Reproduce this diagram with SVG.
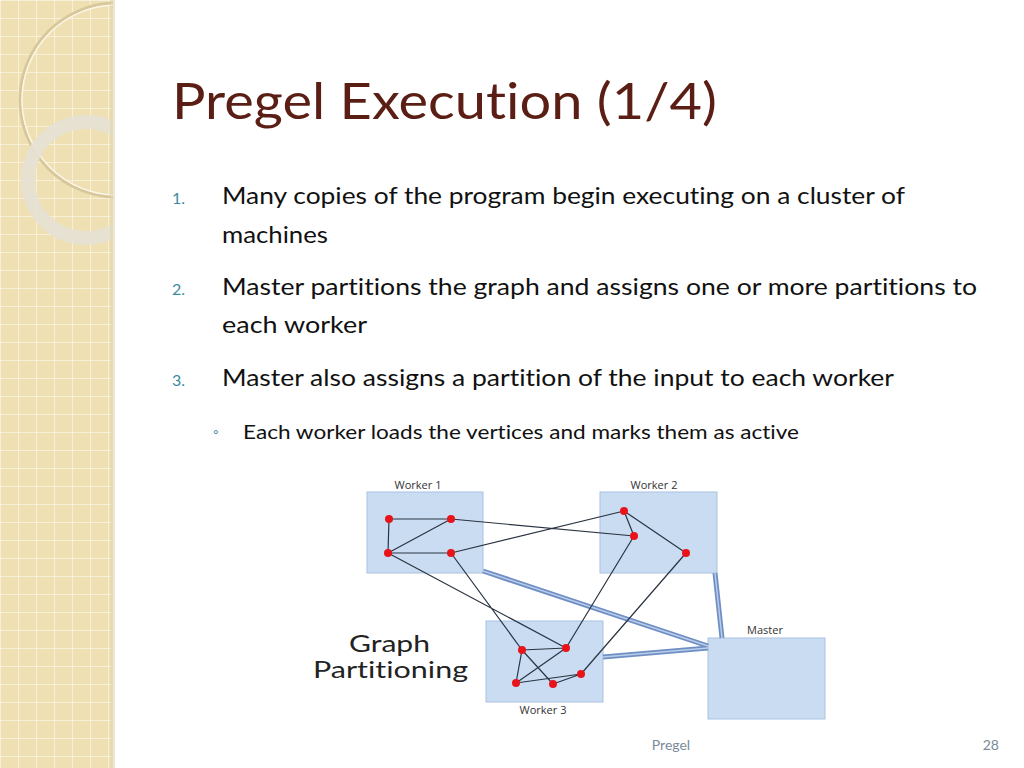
<svg xmlns="http://www.w3.org/2000/svg" width="1024" height="768" viewBox="0 0 1024 768">
<defs>
<pattern id="grid" width="18" height="18" patternUnits="userSpaceOnUse"><rect width="18" height="18" fill="#efe0b4"/><path d="M0 0H18M0 0V18" stroke="#fbf5e4" stroke-width="1.5"/></pattern>
<clipPath id="strip"><rect width="113" height="768"/></clipPath>
</defs>
<style>
text{font-variant-ligatures:none}
.t{font-family:"Lato","Liberation Sans",sans-serif}
.num{font-family:"Lato","Liberation Sans",sans-serif;font-size:16px;fill:#3a8aa0}
.body{font-family:"Lato","Liberation Sans",sans-serif;font-size:24px;fill:#111}
.box{fill:#c9dcf2;stroke:#a9c2e2;stroke-width:1}
.lbl{font-family:"Open Sans","Liberation Sans",sans-serif;font-size:11px;fill:#333}
.e{stroke:#2a3442;stroke-width:1.2;fill:none}
.n{fill:#e8141a}
.thick{stroke:#6f8fc4;stroke-width:5;fill:none}
.thin{stroke:#b9cdea;stroke-width:1.5;fill:none}
</style>
<rect width="1024" height="768" fill="#fff"/>
<g id="strip-deco" clip-path="url(#strip)">
<rect width="113" height="768" fill="url(#grid)"/>
<circle cx="117" cy="100" r="97" fill="none" stroke="#d8c79a" stroke-width="3"/>
<circle cx="117" cy="100" r="95" fill="none" stroke="#fbf6e8" stroke-width="1.5"/>
<circle cx="86" cy="180" r="58" fill="none" stroke="#e6e1d4" stroke-width="14" opacity="0.9"/>
</g>
<rect x="110" y="0" width="5" height="768" fill="#e3d5ad" opacity="0.6"/>
<text class="t" x="172" y="119" font-size="50" fill="#5a1e14" textLength="545" lengthAdjust="spacingAndGlyphs">Pregel Execution (1/4)</text>
<text class="num" x="172" y="204">1.</text>
<text class="body" x="222" y="204" textLength="683" lengthAdjust="spacingAndGlyphs">Many copies of the program begin executing on a cluster of</text>
<text class="body" x="222" y="243" textLength="106" lengthAdjust="spacingAndGlyphs">machines</text>
<text class="num" x="172" y="295">2.</text>
<text class="body" x="222" y="295" textLength="755" lengthAdjust="spacingAndGlyphs">Master partitions the graph and assigns one or more partitions to</text>
<text class="body" x="222" y="333" textLength="145" lengthAdjust="spacingAndGlyphs">each worker</text>
<text class="num" x="172" y="386">3.</text>
<text class="body" x="222" y="386" textLength="672" lengthAdjust="spacingAndGlyphs">Master also assigns a partition of the input to each worker</text>
<text class="num" x="213" y="437" style="font-size:14px">◦</text>
<text class="t" x="243" y="439" font-size="20" fill="#111" textLength="556" lengthAdjust="spacingAndGlyphs">Each worker loads the vertices and marks them as active</text>
<g id="worker1"><rect class="box" x="367" y="492" width="116" height="81"/><text class="lbl" x="418" y="489" text-anchor="middle">Worker 1</text></g>
<g id="worker2"><rect class="box" x="600" y="492" width="117" height="81"/><text class="lbl" x="654" y="489" text-anchor="middle">Worker 2</text></g>
<g id="worker3"><rect class="box" x="486" y="621" width="117" height="81"/><text class="lbl" x="543" y="714" text-anchor="middle">Worker 3</text></g>
<g id="master"><rect class="box" x="708" y="638" width="117" height="81"/><text class="lbl" x="765" y="634" text-anchor="middle">Master</text></g>
<g id="graph-label"><text class="t" x="349" y="652" font-size="24" fill="#222" textLength="81" lengthAdjust="spacingAndGlyphs">Graph</text><text class="t" x="313" y="678" font-size="24" fill="#222" textLength="155" lengthAdjust="spacingAndGlyphs">Partitioning</text></g>
<g id="connectors">
<path class="thick" d="M483 571L708 646M715 573L722 638M603 657L708 648"/>
<path class="thin" d="M483 571L708 646M715 573L722 638M603 657L708 648"/>
<path class="e" d="M389 519L451 519M389 519L388 553M388 553L451 519M388 553L451 553M451 519L634 536M451 553L624 511M624 511L634 536M624 511L686 553M388 553L566 648M451 553L522 650M634 536L566 648M686 553L581 674M522 650L566 648M522 650L516 683M522 650L553 684M516 683L566 648M516 683L581 674M553 684L581 674"/>
<g class="n"><circle cx="389" cy="519" r="4"/><circle cx="451" cy="519" r="4"/><circle cx="388" cy="553" r="4"/><circle cx="451" cy="553" r="4"/><circle cx="624" cy="511" r="4"/><circle cx="634" cy="536" r="4"/><circle cx="686" cy="553" r="4"/><circle cx="522" cy="650" r="4"/><circle cx="566" cy="648" r="4"/><circle cx="516" cy="683" r="4"/><circle cx="553" cy="684" r="4"/><circle cx="581" cy="674" r="4"/></g>
</g>
<text class="t" x="671" y="750" font-size="14" fill="#7a8a99" text-anchor="middle">Pregel</text>
<text class="t" x="999" y="750" font-size="14" fill="#7a8a99" text-anchor="end">28</text>
</svg>
